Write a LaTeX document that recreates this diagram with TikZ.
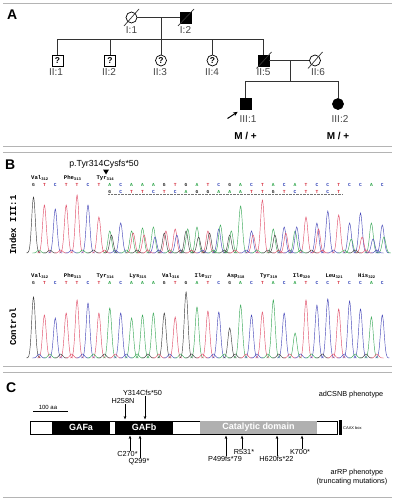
\documentclass[tikz,border=0pt]{standalone}
\usepackage{fontspec}
\setmainfont{Liberation Sans}
\setmonofont{Liberation Mono}
\usetikzlibrary{arrows.meta}
\definecolor{nucA}{HTML}{1E9E3C}
\definecolor{nucC}{HTML}{2B3DB5}
\definecolor{nucG}{HTML}{222222}
\definecolor{nucT}{HTML}{D42A3A}
\definecolor{trA}{HTML}{3AA858}
\definecolor{trC}{HTML}{4648B8}
\definecolor{trG}{HTML}{3A3A3A}
\definecolor{trT}{HTML}{E0506A}
\definecolor{sep}{HTML}{B4B4B4}
\definecolor{lbl}{HTML}{444444}
\definecolor{cat}{HTML}{B0B0B0}
\newcommand\mypeak[4]{%
  \pgfmathsetmacro\pka{#1-7}\pgfmathsetmacro\pkb{#1+7}%
  \draw[tr#3, trace] plot[domain=\pka:\pkb, samples=15, smooth] (\x,{#4-#2*exp(-(\x-#1)*(\x-#1)/6.5)});}
\begin{document}
\begin{tikzpicture}[x=1pt,y=-1pt,
  pl/.style={line width=0.7pt, draw=black!80},
  ped/.style={draw=black, line width=0.7pt, inner sep=0pt, minimum size=11pt, font=\bfseries\fontsize{8.5}{8.5}\selectfont},
  sq/.style={ped, rectangle},
  ci/.style={ped, circle},
  plab/.style={font=\fontsize{10}{10}\selectfont, text=lbl, inner sep=0pt},
  geno/.style={font=\bfseries\fontsize{10}{10}\selectfont, inner sep=0pt},
  panel/.style={font=\bfseries\fontsize{14}{14}\selectfont, inner sep=0pt, anchor=west},
  sepl/.style={draw=sep, line width=0.8pt},
  trace/.style={line width=0.45pt},
  nuc/.style={font=\ttfamily\bfseries\fontsize{4.6}{5}\selectfont, inner sep=0pt},
  aa/.style={font=\ttfamily\bfseries\fontsize{5.6}{6}\selectfont, inner sep=0pt, anchor=west},
  ylab/.style={font=\ttfamily\bfseries\fontsize{9}{9}\selectfont, inner sep=0pt, rotate=90},
  mut/.style={font=\fontsize{7.3}{7.3}\selectfont, inner sep=0.5pt},
  marr/.style={line width=0.6pt, -{Stealth[length=3.5pt,width=2.6pt]}},
  dom/.style={fill=black, text=white, font=\bfseries\fontsize{9}{9}\selectfont, minimum height=13pt, inner sep=0pt},
]
\useasboundingbox (0,0) rectangle (395,500);
% separators
\draw[sepl] (3,3) -- (392,3);
\draw[sepl] (3,146) -- (392,146);
\draw[sepl] (3,152) -- (392,152);
\draw[sepl] (3,366) -- (392,366);
\draw[sepl] (3,372) -- (392,372);
\draw[sepl] (3,497) -- (392,497);
% ================= Panel A =================
\node[panel] (pA) at (7,15) {A};
\node[ci] (I1) at (131.5,17.5) {};
\node[sq, fill=black] (I2) at (185.5,17.5) {};
\draw[pl] (I1.east) -- (I2.west);
\coordinate (m1) at (161,17.5);
\coordinate (s1) at (161,39);
\draw[pl] (m1) -- (s1);
\draw[pl] ([shift={(-7.5,8.5)}]I1.center) -- ([shift={(7.5,-8.5)}]I1.center);
\draw[pl] ([shift={(-7.5,8.5)}]I2.center) -- ([shift={(8.5,-8.5)}]I2.center);
\node[plab] (lI1) at (131.5,30) {I:1};
\node[plab] (lI2) at (185.5,30) {I:2};
\node[sq] (II1) at (57.5,60.5) {?};
\node[sq] (II2) at (110,60.5) {?};
\node[ci] (II3) at (161,60.5) {?};
\node[ci] (II4) at (212.5,60.5) {?};
\node[sq, fill=black] (II5) at (263.5,60.5) {};
\node[ci] (II6) at (315,60.5) {};
\draw[pl] (II1.north) -- (II1.north |- s1) -- (II5.north |- s1) -- (II5.north);
\draw[pl] (II2.north) -- (II2.north |- s1);
\draw[pl] (II3.north) -- (II3.north |- s1);
\draw[pl] (II4.north) -- (II4.north |- s1);
\draw[pl] ([shift={(-7,8)}]II5.center) -- ([shift={(8,-8.5)}]II5.center);
\draw[pl] ([shift={(-7,8)}]II6.center) -- ([shift={(7.5,-8.5)}]II6.center);
\draw[pl] (II5.east) -- (II6.west);
\coordinate (m2) at (290.7,60.5);
\coordinate (s2) at (290.7,81.7);
\draw[pl] (m2) -- (s2);
\node[plab] (lII1) at (56,72) {II:1};
\node[plab] (lII2) at (109,72) {II:2};
\node[plab] (lII3) at (160,72) {II:3};
\node[plab] (lII4) at (212,72) {II:4};
\node[plab] (lII5) at (263.5,72) {II:5};
\node[plab] (lII6) at (318,72) {II:6};
\node[sq, fill=black] (III1) at (245.5,104) {};
\node[ci, fill=black] (III2) at (338,104) {};
\draw[pl] (III1.north) -- (III1.north |- s2) -- (III2.north |- s2) -- (III2.north);
\node[plab] (lIII1) at (248,119) {III:1};
\node[plab] (lIII2) at (340,119) {III:2};
\node[geno] (gIII1) at (245.5,135.5) {M / +};
\node[geno] (gIII2) at (338,135.5) {M / +};
\coordinate (pb) at (227.5,118.5);
\draw[line width=1pt, -{Stealth[length=4.5pt,width=4pt]}] (pb) -- ([shift={(-2,2)}]III1.south west);
% ================= Panel B =================
\node[panel] (pB) at (5,164.5) {B};
\node[font=\fontsize{8.8}{9}\selectfont, inner sep=0pt] (mlab) at (104,164) {p.Tyr314Cysfs*50};
\fill (103,169.5) -- (109,169.5) -- (106,174.5) -- cycle;
\node[ylab] (yl1) at (13,225) {Index III:1};
\node[ylab] (yl2) at (13,327) {Control};
% amino acid labels, index
\node[aa] (ia1) at (31,178) {Val\textsubscript{312}};
\node[aa] (ia2) at (63.7,178) {Phe\textsubscript{313}};
\node[aa] (ia3) at (96.4,178) {Tyr\textsubscript{314}};
% bases, index top row
\foreach \q [count=\nn from 0] in {G,T,C,T,T,C,T,A,C,A,A,A,G,T,G,A,T,C,G,A,C,T,A,C,A,T,C,C,T,C,C,A,C}
  {\node[nuc, text=nuc\q] (it\nn) at ({33.5+10.9*\nn},185) {\q};}
% second row
\draw[densely dotted, black!55, line width=0.4pt] (108,194.5) -- (342,194.5);
\foreach \q [count=\nn from 7] in {G,C,T,T,C,T,C,A,G,G,A,A,A,T,T,G,T,C,T,T,C,T}
  {\node[nuc, text=nuc\q] (is\nn) at ({33.5+10.9*\nn},192) {\q};}
% index trace
\foreach \k/\h/\c in {0/56/G,1/48/T,2/44/C,3/48/T,4/58/T,5/48/C,6/36/T,
7/22/A,7.15/18/G,8/30/C,9/22/A,9.15/20/T,10/25/A,10.15/18/T,11/26/A,11.15/16/C,12/20/G,12.15/22/T,13/24/T,13.15/18/C,14/22/G,14.15/24/A,15/26/A,15.15/16/G,16/22/T,16.15/20/G,17/24/C,17.15/28/A,18/18/G,18.15/22/A,19/47/A,20/22/C,20.15/18/T,21/53/T,22/24/A,22.15/18/G,23/26/C,23.15/20/T,24/22/A,24.15/26/C,25/36/T,26/30/C,26.15/24/T,27/42/C,28/38/T,29/30/C,29.15/14/A,30/40/C,30.15/16/T,31/30/A,31.15/14/C,32/28/C,32.15/16/A}
  {\pgfmathsetmacro\px{33.5+10.9*\k}\mypeak{\px}{\h}{\c}{253}}
\foreach \k in {0,...,31}
  {\pgfmathsetmacro\px{39+10.9*\k}\pgfmathtruncatemacro\mm{mod(\k,4)}%
   \edef\cc{\ifcase\mm A\or G\or T\or C\fi}\mypeak{\px}{3}{\cc}{253}}
% control labels
\foreach \nm/\num [count=\nn from 0] in {Val/312,Phe/313,Tyr/314,Lys/315,Val/316,Ile/317,Asp/318,Tyr/319,Ile/320,Leu/321,His/322}
  {\node[aa] (ca\nn) at ({31+32.7*\nn},276) {\nm\textsubscript{\num}};}
\foreach \q [count=\nn from 0] in {G,T,C,T,T,C,T,A,C,A,A,A,G,T,G,A,T,C,G,A,C,T,A,C,A,T,C,C,T,C,C,A,C}
  {\node[nuc, text=nuc\q] (ct\nn) at ({33.5+10.9*\nn},283) {\q};}
% control trace
\foreach \k/\h/\c in {0/61/G,1/43/T,2/40/C,3/45/T,4/58/T,5/55/C,6/45/T,7/50/A,8/45/C,9/40/A,10/43/A,11/45/A,12/45/G,13/41/T,14/66/G,15/51/A,16/47/T,17/46/C,18/30/G,19/53/A,20/43/C,21/46/T,22/58/A,23/45/C,24/25/A,25/58/T,26/53/C,27/59/C,28/49/T,29/57/C,30/49/C,31/41/A,32/43/C}
  {\pgfmathsetmacro\px{33.5+10.9*\k}\mypeak{\px}{\h}{\c}{358}}
\foreach \k in {0,...,31}
  {\pgfmathsetmacro\px{39+10.9*\k}\pgfmathtruncatemacro\mm{mod(\k,4)}%
   \edef\cc{\ifcase\mm C\or A\or G\or T\fi}\mypeak{\px}{4}{\cc}{358}}
% ================= Panel C =================
\node[panel] (pC) at (6,387.5) {C};
\node[mut, anchor=east] (adc) at (384,394.5) {adCSNB phenotype};
\node[mut, anchor=east] (arrp) at (384,473) {arRP phenotype};
\node[mut, anchor=east] (trunc) at (388,481.5) {(truncating mutations)};
\coordinate (sb1) at (33,411.5);
\coordinate (sb2) at (68,411.5);
\draw[line width=0.6pt] (sb1) -- (sb2);
\node[font=\fontsize{6}{6}\selectfont, inner sep=0pt] (sbl) at (48,407.5) {100 aa};
\node[draw=black, line width=0.6pt, fill=white, minimum width=307pt, minimum height=13pt, inner sep=0pt, anchor=west] (prot) at (30,427.5) {};
\node[dom, minimum width=58pt] (gafa) at (81,427.5) {GAFa};
\node[dom, minimum width=58pt] (gafb) at (144,427.5) {GAFb};
\node[dom, fill=cat, minimum width=117pt] (catd) at (258.5,427.5) {Catalytic domain};
\node[fill=black, minimum width=2.2pt, minimum height=15pt, inner sep=0pt] (caax) at (340.5,427.5) {};
\node[font=\fontsize{4}{4}\selectfont, inner sep=0pt, anchor=west] (caaxl) at (343,428) {CAAX box};
% top mutations
\node[mut] (h258) at (123,401) {H258N};
\coordinate (h258t) at (125,419.5);
\draw[marr] (h258.south -| h258t) -- (h258t);
\node[mut] (y314) at (142.5,393) {Y314Cfs*50};
\coordinate (y314t) at (145,419.5);
\draw[marr] (y314.south -| y314t) -- (y314t);
% bottom mutations
\node[mut] (c270) at (127.5,453.8) {C270*};
\coordinate (c270t) at (130,435.5);
\draw[marr] (c270.north -| c270t) -- (c270t);
\node[mut] (q299) at (139,461.8) {Q299*};
\coordinate (q299t) at (140,435.5);
\draw[marr] (q299.north -| q299t) -- (q299t);
\node[mut] (p499) at (225,459) {P499fs*79};
\coordinate (p499t) at (226,435.5);
\draw[marr] (p499.north -| p499t) -- (p499t);
\node[mut] (r531) at (244,452) {R531*};
\coordinate (r531t) at (242,435.5);
\draw[marr] (r531.north -| r531t) -- (r531t);
\node[mut] (h620) at (276.5,459) {H620fs*22};
\coordinate (h620t) at (277,435.5);
\draw[marr] (h620.north -| h620t) -- (h620t);
\node[mut] (k700) at (300,452) {K700*};
\coordinate (k700t) at (302,435.5);
\draw[marr] (k700.north -| k700t) -- (k700t);
\end{tikzpicture}
\end{document}
